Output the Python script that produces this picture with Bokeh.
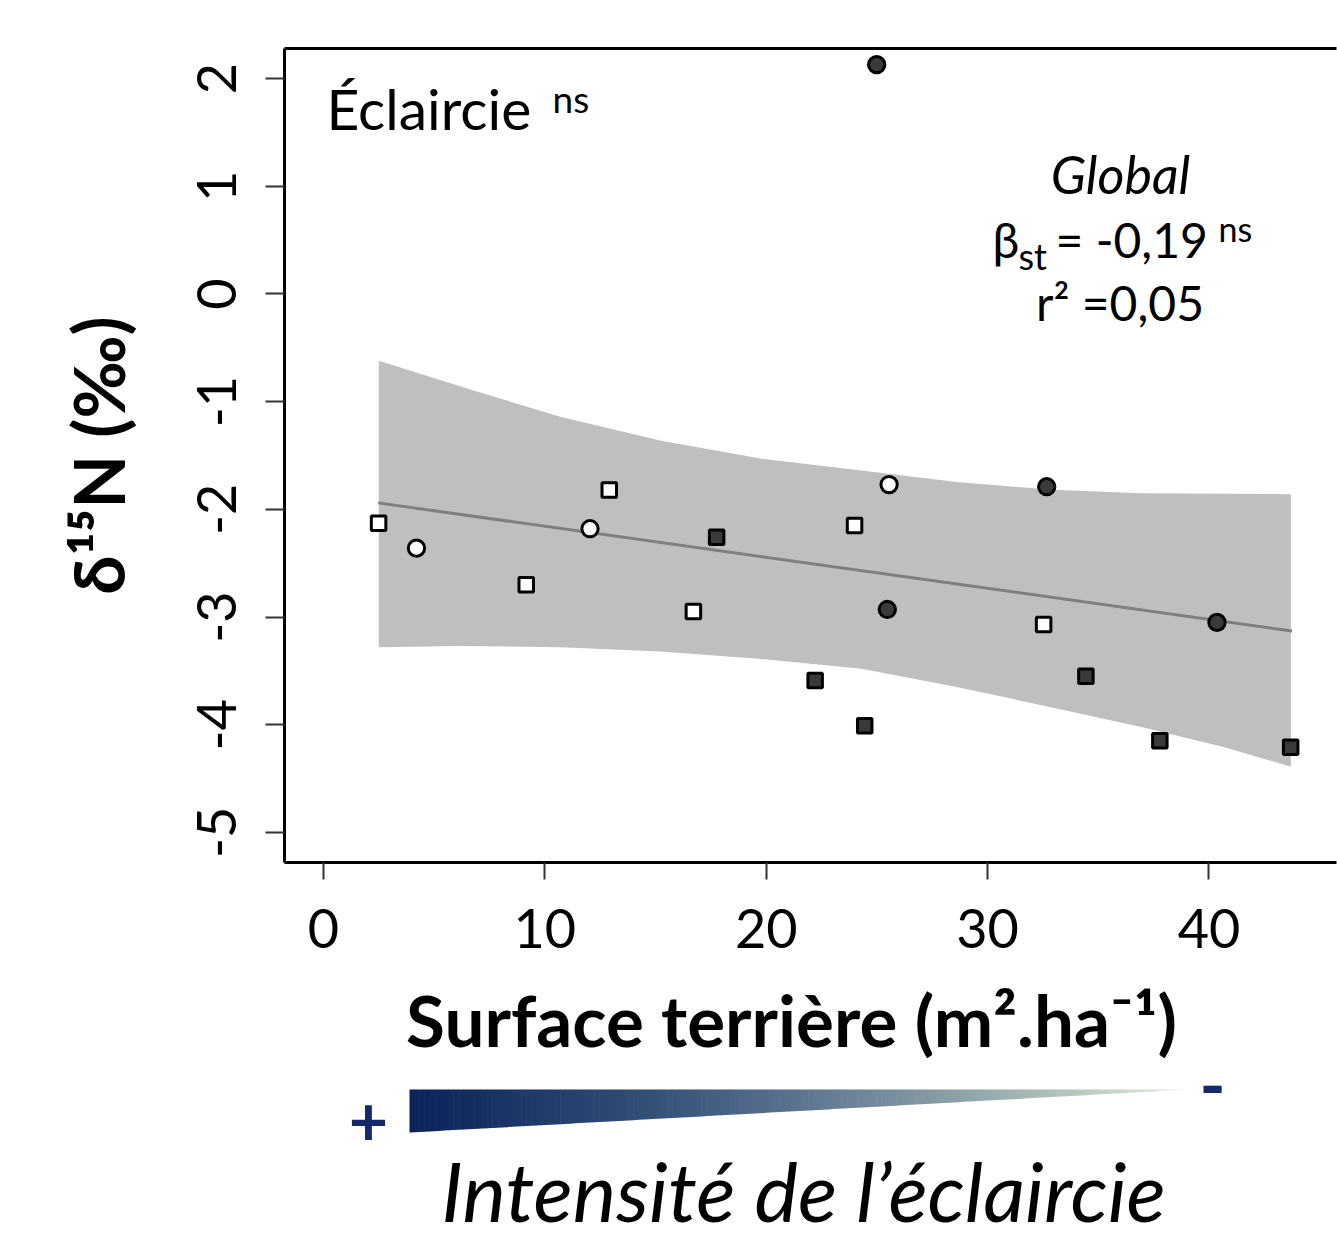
import math
from bokeh.plotting import figure
from bokeh.models import Range1d, FixedTicker, Label, LinearAxis
from bokeh.layouts import column
from bokeh.embed import file_html
from bokeh.resources import INLINE

# ---------------- data ----------------
open_sq_x = [2.49, 9.16, 12.91, 16.71, 23.99, 32.53]
open_sq_y = [-2.13, -2.70, -1.82, -2.95, -2.15, -3.07]
open_ci_x = [4.20, 12.04, 25.55]
open_ci_y = [-2.36, -2.18, -1.77]
dark_sq_x = [17.76, 22.21, 24.45, 34.44, 37.78, 43.69]
dark_sq_y = [-2.26, -3.59, -4.01, -3.55, -4.15, -4.21]
dark_ci_x = [24.99, 25.47, 32.67, 40.36]
dark_ci_y = [2.13, -2.93, -1.79, -3.05]

fit_x = [2.47, 43.75]
fit_y = [-1.94, -3.13]

band_x = [2.5, 6.2, 10.7, 15.2, 19.8, 24.3, 28.6, 32.7, 36.9, 40.7, 43.7]
band_hi = [-0.62, -0.86, -1.14, -1.36, -1.53, -1.64, -1.745, -1.815, -1.85, -1.855, -1.86]
band_lo = [-3.28, -3.27, -3.28, -3.32, -3.39, -3.48, -3.65, -3.83, -4.02, -4.21, -4.39]

x_ticks = [0, 10, 20, 30, 40]
x_tick_labels = ["0", "10", "20", "30", "40"]
y_ticks = [-5, -4, -3, -2, -1, 0, 1, 2]
y_tick_labels = ["-5", "-4", "-3", "-2", "-1", "0", "1", "2"]

FONT = "Lato"

# ---------------- layout helpers ----------------
W, H = 1337, 975
FL, FT, FR_ = 284, 48, 1
FB = H - 862
XR = (-1.76, 45.76)
YR = (-5.28, 2.28)
fw = W - FL - FR_
fh = H - FT - FB

def dx(px):  # page px -> data x
    return XR[0] + (px - FL) / fw * (XR[1] - XR[0])

def dy(py):  # page px -> data y
    return YR[1] - (py - FT) / fh * (YR[1] - YR[0])

p = figure(width=W, height=H, x_range=Range1d(*XR), y_range=Range1d(*YR),
           output_backend="svg", toolbar_location=None,
           min_border_left=FL, min_border_right=FR_, min_border_top=FT, min_border_bottom=FB)
p.xgrid.visible = False
p.ygrid.visible = False
p.outline_line_color = None
p.background_fill_color = "white"
p.border_fill_color = "white"

for ax, ticks, labels, tout in ((p.xaxis, x_ticks, x_tick_labels, 17), (p.yaxis, y_ticks, y_tick_labels, 19)):
    ax.ticker = FixedTicker(ticks=ticks)
    ax.major_label_overrides = {t: l for t, l in zip(ticks, labels)}
    ax.major_label_text_font = FONT
    ax.major_label_text_font_size = "54px"
    ax.major_label_text_color = "black"
    ax.major_tick_out = tout
    ax.major_tick_in = 0
    ax.major_tick_line_width = 2
    ax.major_tick_line_color = "#333333"
    ax.minor_tick_line_color = None
    ax.axis_line_width = 3
    ax.axis_line_color = "black"
    ax.major_label_standoff = 29
p.yaxis.major_label_orientation = "vertical"
p.yaxis.axis_label = "δ¹⁵N (‰)"
p.yaxis.axis_label_text_font = FONT
p.yaxis.axis_label_text_font_style = "bold"
p.yaxis.axis_label_text_font_size = "70px"
p.yaxis.axis_label_text_color = "black"
p.yaxis.axis_label_standoff = 55

top = LinearAxis(ticker=FixedTicker(ticks=[]), major_label_text_font_size="0px",
                 major_tick_line_color=None, minor_tick_line_color=None,
                 axis_line_width=3, axis_line_color="black")
p.add_layout(top, "above")

# confidence band and fit line
p.varea(x=band_x, y1=band_lo, y2=band_hi, fill_color="#BFBFBF")
p.line(fit_x, fit_y, line_color="#7F7F7F", line_width=3)

# points
p.scatter(open_sq_x, open_sq_y, marker="square", size=14.5, fill_color="white", line_color="black", line_width=3)
p.scatter(open_ci_x, open_ci_y, marker="circle", size=16.3, fill_color="white", line_color="black", line_width=3)
p.scatter(dark_sq_x, dark_sq_y, marker="square", size=14.5, fill_color="#3A3A3A", line_color="black", line_width=3)
p.scatter(dark_ci_x, dark_ci_y, marker="circle", size=16.3, fill_color="#3A3A3A", line_color="black", line_width=3)

SHIFT = 0.39  # empirical baseline correction (em)

def lab(fig, x, y, text, size, style="normal", align="left", color="black", conv=True):
    yy = y - SHIFT * size
    fig.add_layout(Label(x=dx(x) if conv else x, y=dy(yy) if conv else yy, text=text,
                         text_font=FONT, text_font_size=f"{size}px",
                         text_font_style=style, text_align=align, text_baseline="alphabetic",
                         text_color=color))

# texts inside the frame
lab(p, 326, 130, "Éclaircie", 57)
lab(p, 552, 112, "ns", 37)
lab(p, 1120, 194, "Global", 52, style="italic", align="center")
lab(p, 992, 258, "β", 48)
lab(p, 1018, 270, "st", 36)
lab(p, 1055, 258, "= -0,19", 48)
lab(p, 1218, 241, "ns", 34)
lab(p, 1119.5, 321, "r² =0,05", 48, align="center")

# ---------------- bottom part ----------------
H2 = 1240 - H
p2 = figure(width=W, height=H2, x_range=Range1d(FL, W - FR_), y_range=Range1d(H + H2, H),
            output_backend="svg", toolbar_location=None, x_axis_type=None, y_axis_type=None,
            min_border_left=FL, min_border_right=FR_, min_border_top=0, min_border_bottom=0)
p2.xgrid.visible = False
p2.ygrid.visible = False
p2.outline_line_color = None
p2.background_fill_color = "white"
p2.border_fill_color = "white"

lab(p2, 791, 1047, "Surface terrière (m².ha⁻¹)", 71, style="bold", align="center", conv=False)

# gradient wedge
stops = [(0.0, (10, 35, 90)), (0.3, (50, 78, 118)), (0.5, (92, 116, 144)),
         (0.7, (140, 160, 166)), (0.87, (188, 204, 192)), (1.0, (228, 236, 226))]

def col(t):
    for (t0, c0), (t1, c1) in zip(stops[:-1], stops[1:]):
        if t <= t1:
            f = (t - t0) / (t1 - t0)
            c = [round(a + (b - a) * f) for a, b in zip(c0, c1)]
            return "#%02x%02x%02x" % tuple(c)
    return "#%02x%02x%02x" % stops[-1][1]

xl, xr, yt, yb = 409.0, 1187.0, 1089.0, 1132.0
n = 160
xs, ys, cs = [], [], []
for i in range(n):
    a = xl + (xr - xl) * i / n
    b = xl + (xr - xl) * (i + 1) / n
    ba = yb - (yb - yt) * (a - xl) / (xr - xl)
    bb = yb - (yb - yt) * (b - xl) / (xr - xl)
    xs.append([a, b + 0.6, b + 0.6, a])
    ys.append([yt, yt, bb, ba])
    cs.append(col((i + 0.5) / n))
p2.patches(xs, ys, fill_color=cs, line_color=None)

lab(p2, 368, 1147, "+", 68, style="bold", align="center", color="#15296A", conv=False)
lab(p2, 1212, 1112, "-", 70, style="bold", align="center", color="#15296A", conv=False)
lab(p2, 803, 1221, "Intensité de l’éclaircie", 82, style="italic", align="center", conv=False)

layout = column(p, p2, spacing=0)
open("out.html", "w").write(file_html(layout, INLINE))
